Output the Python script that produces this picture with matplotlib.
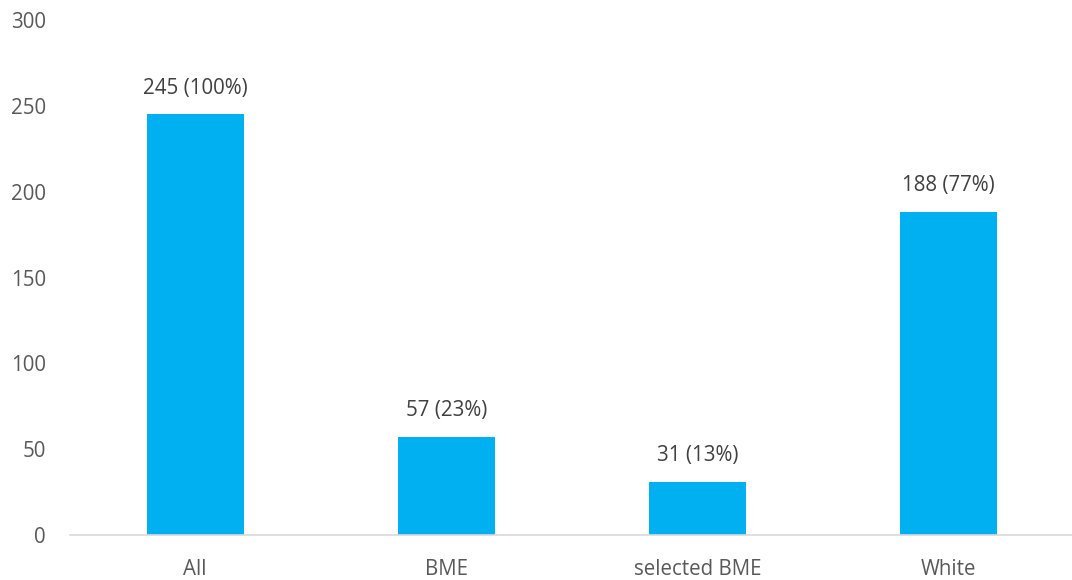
import matplotlib.pyplot as plt

categories = ['All', 'BME', 'selected BME', 'White']
counts = [245, 57, 31, 188]
shares = [100, 23, 13, 77]

plt.rcParams['font.family'] = ['Open Sans', 'DejaVu Sans']

W, H = 1072, 580
fig = plt.figure(figsize=(W / 100, H / 100), dpi=100)
# axes placed in pixel terms: x from 69.5 to 1074, y from 535 (zero) to 20 (300)
ax = fig.add_axes([69.5 / W, 1 - 535 / H, 1004.5 / W, 515 / H])

x = range(len(categories))
bars = ax.bar(x, counts, width=0.386, color='#00B0F0', zorder=2)

for b, c, s in zip(bars, counts, shares):
    ax.annotate(f'{c} ({s}%)', (b.get_x() + b.get_width() / 2, c),
                xytext=(0, 19), textcoords='offset points',
                ha='center', va='center', fontsize=14.8, color='#404040')

ax.set_xlim(-0.5, 3.5)
ax.set_ylim(0, 300)
ax.set_yticks(range(0, 301, 50))
ax.set_xticks(list(x))
ax.set_xticklabels(categories)
ax.tick_params(axis='both', length=0, labelsize=14.8, colors='#595959')
ax.tick_params(axis='y', pad=17)
ax.tick_params(axis='x', pad=17)

for side in ['top', 'right', 'left']:
    ax.spines[side].set_visible(False)
ax.spines['bottom'].set_color('#D9D9D9')
ax.spines['bottom'].set_linewidth(1.2)

fig.savefig('out.png', dpi=100)
